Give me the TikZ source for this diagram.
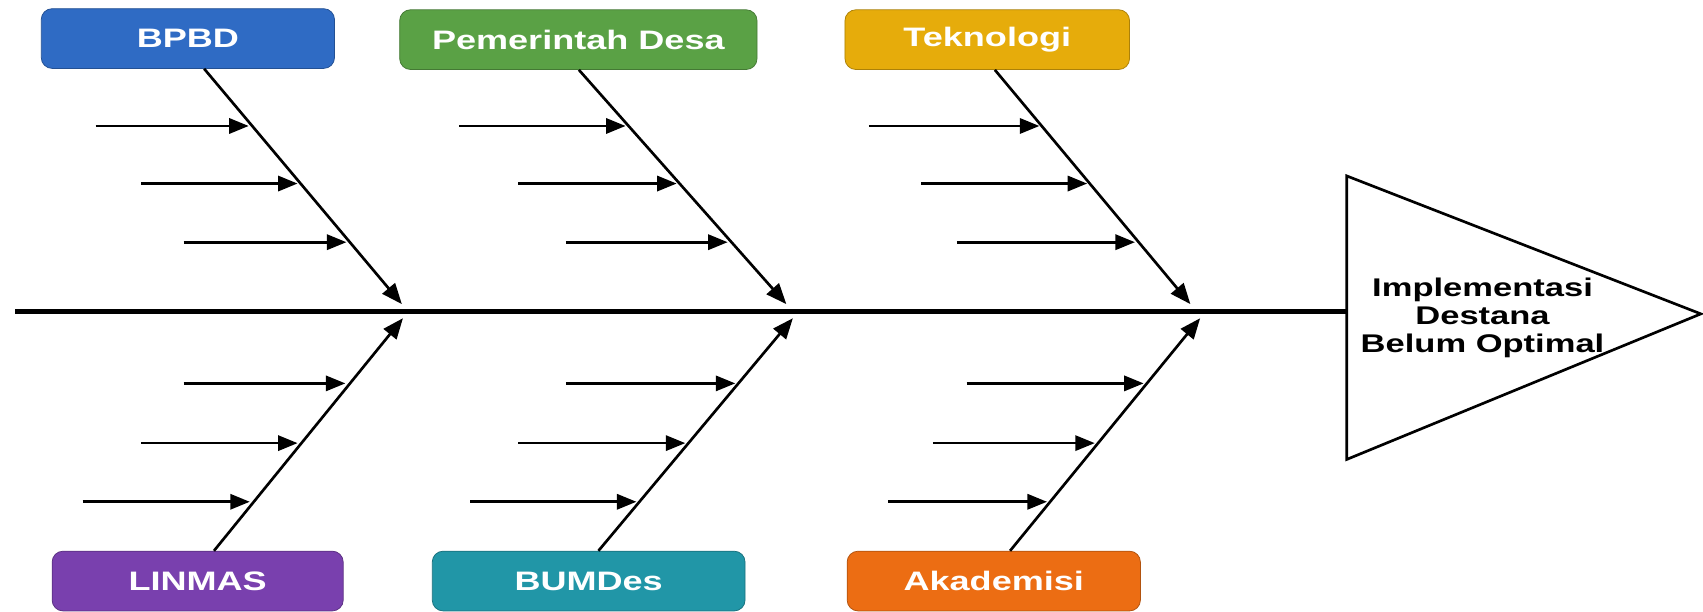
\documentclass[tikz,border=0pt]{standalone}
\usepackage{fontspec}
\newfontfamily\boxfont[FakeStretch=1.35]{Liberation Sans}
\usetikzlibrary{arrows.meta}
\definecolor{bpbdBlue}{HTML}{2F6BC4}
\definecolor{desaGreen}{HTML}{5AA145}
\definecolor{teknoGold}{HTML}{E6AC0B}
\definecolor{linmasPurple}{HTML}{7940AE}
\definecolor{bumdesTeal}{HTML}{2196A7}
\definecolor{akadOrange}{HTML}{EC6D13}

\begin{document}
\begin{tikzpicture}
[x=0.02cm,y=-0.02cm,
  boxDecorate/.style={shape=rectangle,rounded corners=0.2cm,draw=#1!75!black,fill=#1,text=white,
    minimum height=1.1cm,inner sep=0pt,font=\boxfont\bfseries\fontsize{14}{16}\selectfont},%
  boneDecorate/.style={-{Triangle[length=0.38cm,width=0.3cm]},line width=1.4pt},%
  twigDecorate/.style={-{Triangle[length=0.36cm,width=0.28cm]},line width=1.4pt},%
  spineDecorate/.style={line width=2.4pt},%
  headDecorate/.style={line width=1.4pt,line join=miter}]
\useasboundingbox (0,0) rectangle (1568,563);
%% category boxes
\foreach \nodename/\txt/\col/\x/\y/\w in {bpbd/BPBD/bpbdBlue/173/35.5/270,
  desa/Pemerintah Desa/desaGreen/532.5/36.5/329, tekno/Teknologi/teknoGold/909/36.5/262,
  linmas/LINMAS/linmasPurple/182/535/268, bumdes/BUMDes/bumdesTeal/542/535/288,
  akad/Akademisi/akadOrange/915/535/270}
{
  \node (\nodename) at (\x,\y) [boxDecorate=\col,minimum width=\w*0.02cm] {\txt};
}
%% head and spine
\coordinate (tail) at (14,287);
\coordinate (head) at (1240,287);
\draw[headDecorate] (1240,162) -- (1566,289) -- (1240,423) -- cycle;
\node (effect) at (1365,293) [align=center,font=\boxfont\bfseries\fontsize{13.4}{14.7}\selectfont]
  {Implementasi\\Destana\\Belum Optimal};
\draw[spineDecorate] (tail) -- (head);
%% bone tips on the spine
\foreach \tipname/\x/\y in {tip1/370/280, tip2/724/280, tip3/1096/280,
  tip4/371/293, tip5/730/293, tip6/1105/293}
{
  \coordinate (\tipname) at (\x,\y);
}
%% bones
\path
\foreach \startnode/\sx/\endnode in {bpbd/188/tip1, desa/533/tip2, tekno/916/tip3} {
  (\startnode.south -| \sx,0) edge[boneDecorate] (\endnode)
};
\path
\foreach \startnode/\sx/\endnode in {linmas/197/tip4, bumdes/551/tip5, akad/930/tip6} {
  (\startnode.north -| \sx,0) edge[boneDecorate] (\endnode)
};
%% small causes
\foreach \xs/\xe/\y in {88/229/116, 130/274/169, 169/319/223,
  423/576/116, 477/623/169, 521/670/223,
  800/957/116, 848/1001/169, 881/1045/223,
  169/318/353, 130/274/408, 76/230/462,
  521/677/353, 477/631/408, 433/586/462,
  890/1053/353, 859/1008/408, 818/964/462}
{
  \draw[twigDecorate] (\xs,\y) -- (\xe,\y);
}
\end{tikzpicture}
\end{document}
